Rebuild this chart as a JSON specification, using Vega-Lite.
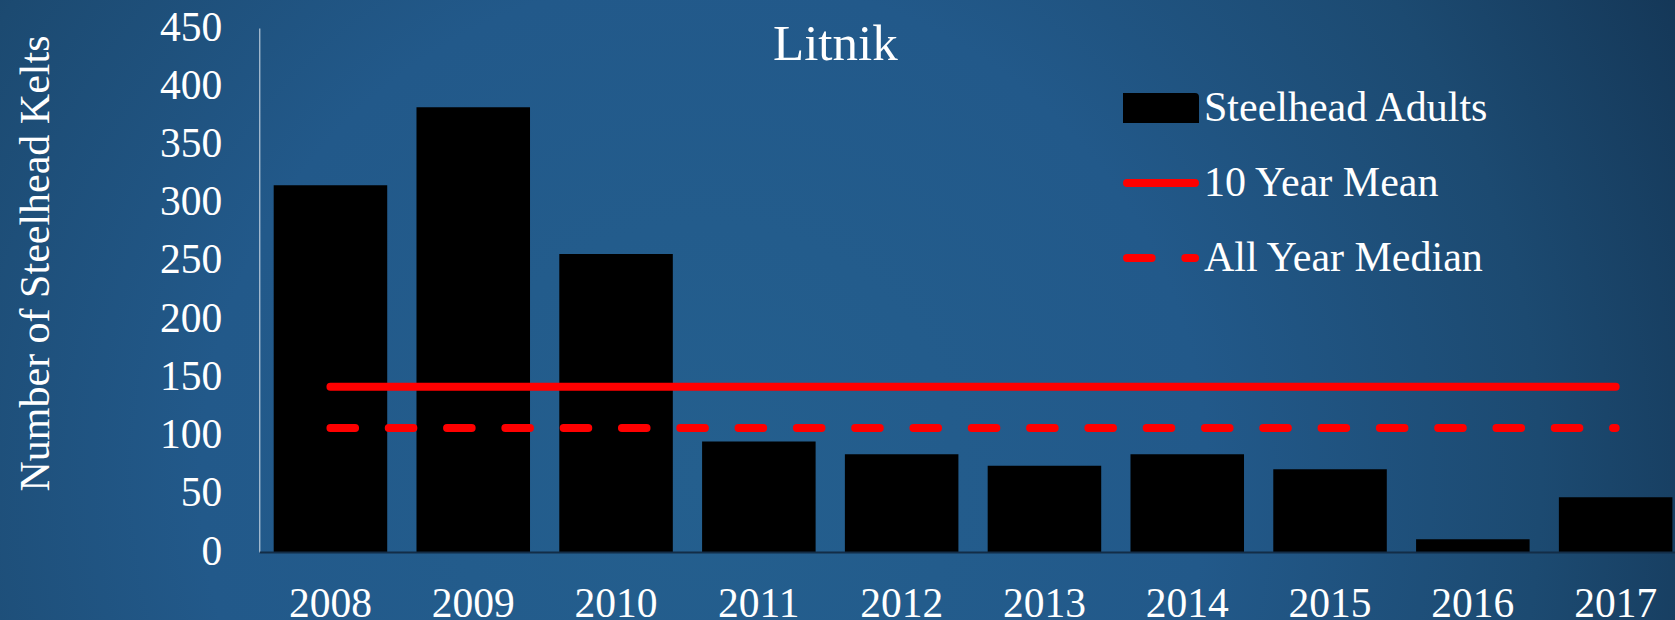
{
  "$schema": "https://vega.github.io/schema/vega-lite/v6.json",
  "width": 1675,
  "height": 620,
  "autosize": "none",
  "padding": 0,
  "background": "#163a5c",
  "config": {
    "font": "Liberation Serif",
    "view": {
      "stroke": null,
      "fill": {
        "gradient": "radial",
        "x1": 0.42, "y1": 0.6, "r1": 0,
        "x2": 0.42, "y2": 0.6, "r2": 1,
        "stops": [
          {"offset": 0, "color": "#245f8e"},
          {"offset": 0.3, "color": "#22598a"},
          {"offset": 0.5, "color": "#1c4a71"},
          {"offset": 0.7, "color": "#12314f"},
          {"offset": 1, "color": "#0f2b47"}
        ]
      }
    }
  },
  "title": {
    "text": "Litnik",
    "font": "Liberation Serif",
    "fontSize": 51,
    "fontWeight": "normal",
    "color": "white",
    "anchor": "start",
    "frame": "group",
    "dx": 773,
    "offset": -111,
    "baseline": "alphabetic"
  },
  "data": {
    "values": [
      {"year": "2008", "adults": 315, "mean": 141.9, "median": 106.5},
      {"year": "2009", "adults": 382, "mean": 141.9, "median": 106.5},
      {"year": "2010", "adults": 256, "mean": 141.9, "median": 106.5},
      {"year": "2011", "adults": 95, "mean": 141.9, "median": 106.5},
      {"year": "2012", "adults": 84, "mean": 141.9, "median": 106.5},
      {"year": "2013", "adults": 74, "mean": 141.9, "median": 106.5},
      {"year": "2014", "adults": 84, "mean": 141.9, "median": 106.5},
      {"year": "2015", "adults": 71, "mean": 141.9, "median": 106.5},
      {"year": "2016", "adults": 11, "mean": 141.9, "median": 106.5},
      {"year": "2017", "adults": 47, "mean": 141.9, "median": 106.5}
    ]
  },
  "encoding": {
    "x": {
      "field": "year",
      "type": "nominal",
      "sort": null,
      "scale": {"type": "band", "range": [259.3, 1675], "paddingInner": 0.205, "paddingOuter": 0.0595, "align": 0.847},
      "axis": {
        "orient": "bottom",
        "offset": -68,
        "labelAngle": 0,
        "ticks": false,
        "tickSize": 0,
        "grid": false,
        "labelFont": "Liberation Serif",
        "labelFontSize": 41.5,
        "labelColor": "white",
        "labelPadding": 64,
        "labelBaseline": "alphabetic",
        "domainColor": "#132d47",
        "domainWidth": 2,
        "zindex": 1,
        "title": null
      }
    }
  },
  "layer": [
    {
      "mark": {"type": "bar"},
      "encoding": {
        "y": {
          "field": "adults",
          "type": "quantitative",
          "scale": {"domain": [0, 450], "range": [552, 28], "nice": false, "zero": true},
          "axis": {
            "orient": "left",
            "offset": -259.3,
            "values": [0, 50, 100, 150, 200, 250, 300, 350, 400, 450],
            "ticks": false,
            "tickSize": 0,
            "grid": false,
            "labelFont": "Liberation Serif",
            "labelFontSize": 41.5,
            "labelColor": "white",
            "labelPadding": 37.6,
            "labelBaseline": "middle",
            "domainColor": "#d8e2ec",
            "domainWidth": 1,
            "title": "Number of Steelhead Kelts",
            "titleFont": "Liberation Serif",
            "titleFontSize": 42,
            "titleFontWeight": "normal",
            "titleColor": "white",
            "titleAngle": -90,
            "titleX": -211,
            "titleY": 263,
            "titleAlign": "center",
            "titleBaseline": "alphabetic"
          }
        },
        "color": {
          "datum": "Steelhead Adults",
          "type": "nominal",
          "scale": {"domain": ["Steelhead Adults", "10 Year Mean", "All Year Median"], "range": ["black", "red", "red"]},
          "legend": {
            "orient": "none",
            "legendX": 1123,
            "legendY": 83,
            "title": null,
            "padding": 0,
            "clipHeight": 50,
            "rowPadding": 25,
            "labelFont": "Liberation Serif",
            "labelFontSize": 42,
            "labelColor": "white",
            "labelOffset": 5,
            "labelLimit": 600,
            "symbolSize": 4624,
            "symbolStrokeWidth": 8,
            "encode": {
              "symbols": {
                "update": {
                  "shape": {"signal": "datum.value === 'Steelhead Adults' ? 'M-1,-0.3235H1V0.3235H-1Z' : 'stroke'"},
                  "fill": {"signal": "datum.value === 'Steelhead Adults' ? 'black' : 'transparent'"},
                  "stroke": {"signal": "datum.value === 'Steelhead Adults' ? 'transparent' : 'red'"},
                  "strokeWidth": {"value": 8},
                  "strokeCap": {"value": "round"},
                  "strokeDash": {"signal": "datum.value === 'All Year Median' ? [24.6, 33.7] : [1, 0]"},
                  "size": {"value": 4624},
                  "opacity": {"value": 1}
                }
              }
            }
          }
        }
      }
    },
    {
      "mark": {"type": "line", "strokeWidth": 8, "strokeCap": "round"},
      "encoding": {
        "y": {"field": "mean", "type": "quantitative"},
        "color": {"datum": "10 Year Mean", "type": "nominal"}
      }
    },
    {
      "mark": {"type": "line", "strokeWidth": 8, "strokeCap": "round", "strokeDash": [24.6, 33.7]},
      "encoding": {
        "y": {"field": "median", "type": "quantitative"},
        "color": {"datum": "All Year Median", "type": "nominal"}
      }
    }
  ]
}
